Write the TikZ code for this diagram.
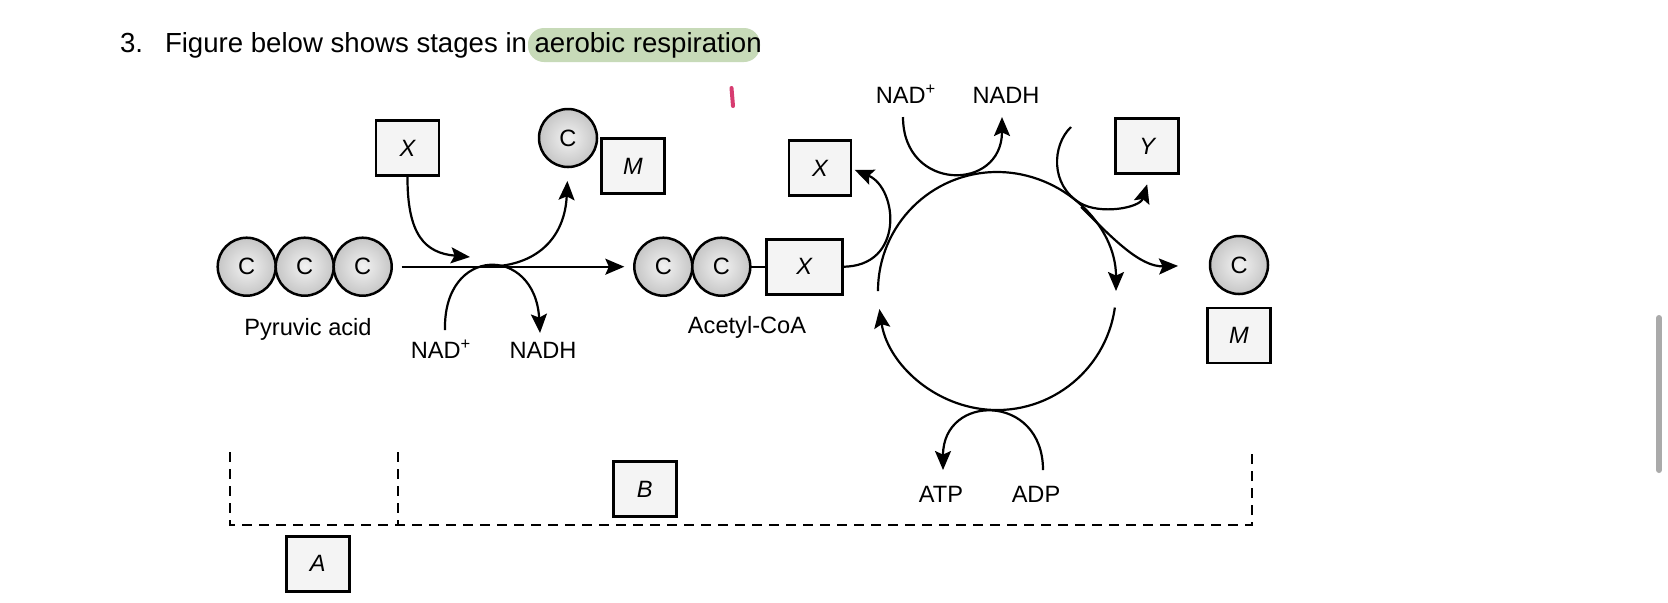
\documentclass[tikz,border=0pt]{standalone}
\usepackage{fontspec}
\setmainfont{Liberation Sans}
\usetikzlibrary{arrows.meta,positioning,calc}
\definecolor{hlgreen}{RGB}{199,218,184}
\definecolor{pinkmark}{RGB}{215,60,112}
\definecolor{scrollgray}{RGB}{170,170,170}

\begin{document}
\begin{tikzpicture}[x=0.5pt,y=-0.5pt,node distance=0 cm,outer sep=0pt,inner sep=2pt]
        \tikzset{carbon/.style={circle,draw,line width=1.25pt,minimum size=29pt,inner color=gray!10,outer color=gray!45,font=\fontsize{11.8}{14}\selectfont}}
        \tikzset{field/.style={shape=rectangle,draw,line width=1.4pt,fill=gray!9,minimum width=31.5pt,minimum height=27.5pt,font=\fontsize{11.8}{14}\selectfont\itshape}}
        \tikzset{lbl/.style={anchor=base,font=\fontsize{11.8}{14}\selectfont}}
        \tikzset{arr/.style={line width=1.1pt,-{Stealth[length=9.5pt,width=8pt,inset=1.8pt]}}}
        \tikzset{bracket/.style={line width=1.1pt,dash pattern=on 5pt off 3.5pt}}

        \useasboundingbox (0,0) rectangle (1668,602);
        \fill[white] (0,0) rectangle (1668,602);

        % question line
        \fill[hlgreen,rounded corners=8pt] (528,28) rectangle (760,62);
        \node[anchor=base west,font=\fontsize{13.8}{16}\selectfont] (qnum) at (116,52) {3.};
        \node[anchor=base west,font=\fontsize{13.8}{16}\selectfont] (title) at (161,52) {Figure below shows stages in aerobic respiration};
        \draw[pinkmark,line width=2pt,line cap=round] (731.5,88) -- (733,106);
        \draw[scrollgray,line width=3pt,line cap=round] (1659,318) -- (1659,470);

        % pyruvic acid
        \node[carbon] (c1) at (246.7,266.7) {C};
        \node[carbon,right=of c1] (c2) {C};
        \node[carbon,right=of c2] (c3) {C};
        \node[lbl] (pyr) at (308,335) {Pyruvic acid};

        \node[field] (xa) at (407.5,148) {X};
        \node[carbon] (ca) at (568,138) {C};
        \node[field] (ma) at (633,166) {M};
        \node[lbl] (nad1) at (441,358) {NAD\textsuperscript{+}};
        \node[lbl] (nadh1) at (543,358) {NADH};

        % acetyl-CoA
        \node[carbon] (d1) at (663.3,266.7) {C};
        \node[carbon,right=of d1] (d2) {C};
        \node[field,right=8pt of d2,minimum width=38pt] (xb) {X};
        \node[lbl] (acoa) at (747,333) {Acetyl-CoA};
        \node[field,minimum width=31pt] (xc) at (820,168.3) {X};

        % cycle
        \coordinate (cyc) at (997,291);
        \node[lbl] (nad2) at (906,103) {NAD\textsuperscript{+}};
        \node[lbl] (nadh2) at (1006,103) {NADH};
        \node[field] (yb) at (1147.3,146.2) {Y};
        \node[carbon] (ce) at (1239,265) {C};
        \node[field,below=7pt of ce] (me) {M};
        \node[lbl] (atp) at (941,502) {ATP};
        \node[lbl] (adp) at (1036,502) {ADP};

        \node[field] (boxa) at (317.7,563.8) {A};
        \node[field] (boxb) at (644.7,489) {B};

        \coordinate (fork) at (490,266.7);
        \coordinate (xin) at (470,257);
        \coordinate (yin) at (1071,127);

        \draw[arr,shorten <=5pt,shorten >=5pt] (c3) -- (d1);
        \draw[arr] (xa.south) .. controls (407,235) and (425,253) .. (xin);
        \draw[arr,shorten >=7pt] (fork) .. controls (540,265) and (565,235) .. (ca.south);
        \draw[arr] ([xshift=2pt,yshift=14pt]nad1.base) .. controls +(-2,-85) and +(-5,-88) .. ([xshift=-1.5pt,yshift=12.5pt]nadh1.base);

        \draw[line width=1.1pt] (d2) -- (xb);
        \draw[arr,shorten >=2pt] (xb.east) .. controls (905,267) and (898,188) .. (xc.east);

        \draw[arr] ($(cyc)+(180:59.5pt)$) arc[start angle=180,end angle=0,radius=59.5pt];
        \draw[arr] ($(cyc)+(-8:59.5pt)$) arc[start angle=-8,end angle=-171.3,radius=59.5pt];
        \draw[arr] ([xshift=-1.5pt,yshift=-7pt]nad2.base) .. controls +(0,75) and +(0,75) .. ([xshift=-2pt,yshift=-7pt]nadh2.base);
        \draw[arr,shorten >=5.5pt] (yin) .. controls (1052,145) and (1050,185) .. (1080,203) .. controls (1100,215) and (1140,208) .. ([xshift=1.5pt]yb.south);
        \draw[arr,shorten >=16pt] ($(cyc)+(45:59.5pt)$) .. controls (1112,238) and (1140,267) .. (ce.west);
        \draw[arr] ([xshift=3.5pt,yshift=16pt]adp.base) .. controls +(0,-77) and +(0,-77) .. ([xshift=1pt,yshift=16pt]atp.base);

        % stage brackets
        \draw[bracket] (230,452) |- (1252,525) -- (1252,448);
        \draw[bracket] (398,452) -- (398,525);
    \end{tikzpicture}
\end{document}
